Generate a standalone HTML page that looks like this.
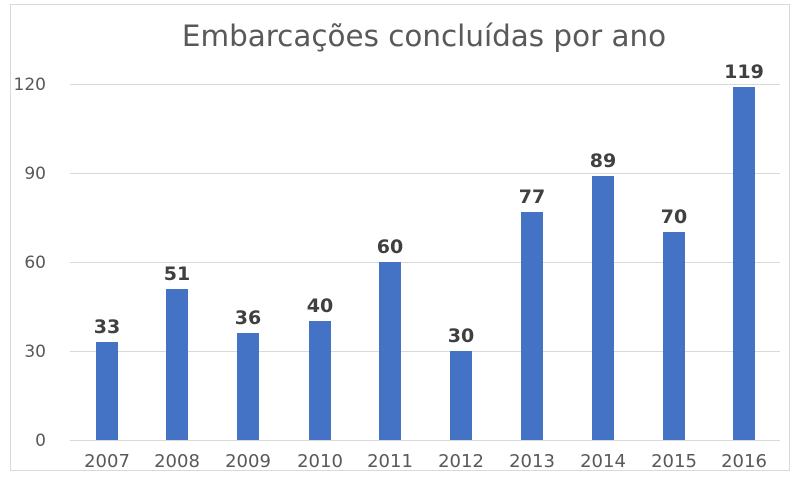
<!DOCTYPE html><html><head><style>body{margin:0;background:#fff}</style></head><body>
<svg width="800" height="490" xmlns="http://www.w3.org/2000/svg" font-family="'DejaVu Sans', 'Liberation Sans', sans-serif">
<rect x="10.5" y="4.5" width="779" height="466" fill="#fff" stroke="#d9d9d9"/>
<text x="424" y="46" text-anchor="middle" font-size="29.4" fill="#595959">Embarcações concluídas por ano</text>
<g stroke="#d9d9d9" stroke-width="1">
<line x1="70" x2="780" y1="84.5" y2="84.5"/><line x1="70" x2="780" y1="173.5" y2="173.5"/>
<line x1="70" x2="780" y1="262.5" y2="262.5"/><line x1="70" x2="780" y1="351.5" y2="351.5"/>
<line x1="70" x2="780" y1="440.5" y2="440.5"/></g>
<g font-size="17" fill="#595959" text-anchor="end">
<text x="46" y="90">120</text><text x="46" y="179">90</text><text x="46" y="268">60</text><text x="46" y="357">30</text><text x="46" y="446">0</text></g>
<g fill="#4472c4">
<rect x="96" y="342" width="22" height="98"/><rect x="166" y="289" width="22" height="151"/>
<rect x="237" y="333" width="22" height="107"/><rect x="309" y="321" width="22" height="119"/>
<rect x="379" y="262" width="22" height="178"/><rect x="450" y="351" width="22" height="89"/>
<rect x="521" y="212" width="22" height="228"/><rect x="592" y="176" width="22" height="264"/>
<rect x="663" y="232" width="22" height="208"/><rect x="733" y="87" width="22" height="353"/></g>
<g font-size="19" font-weight="bold" fill="#404040" text-anchor="middle">
<text x="107" y="333">33</text><text x="177" y="280">51</text><text x="248" y="324">36</text>
<text x="320" y="312">40</text><text x="390" y="253">60</text><text x="461" y="342">30</text>
<text x="532" y="203">77</text><text x="603" y="167">89</text><text x="674" y="223">70</text><text x="744" y="78">119</text></g>
<g font-size="18" fill="#595959" text-anchor="middle">
<text x="107" y="467">2007</text><text x="177" y="467">2008</text><text x="248" y="467">2009</text>
<text x="320" y="467">2010</text><text x="390" y="467">2011</text><text x="461" y="467">2012</text>
<text x="532" y="467">2013</text><text x="603" y="467">2014</text><text x="674" y="467">2015</text><text x="744" y="467">2016</text></g>
</svg></body></html>
